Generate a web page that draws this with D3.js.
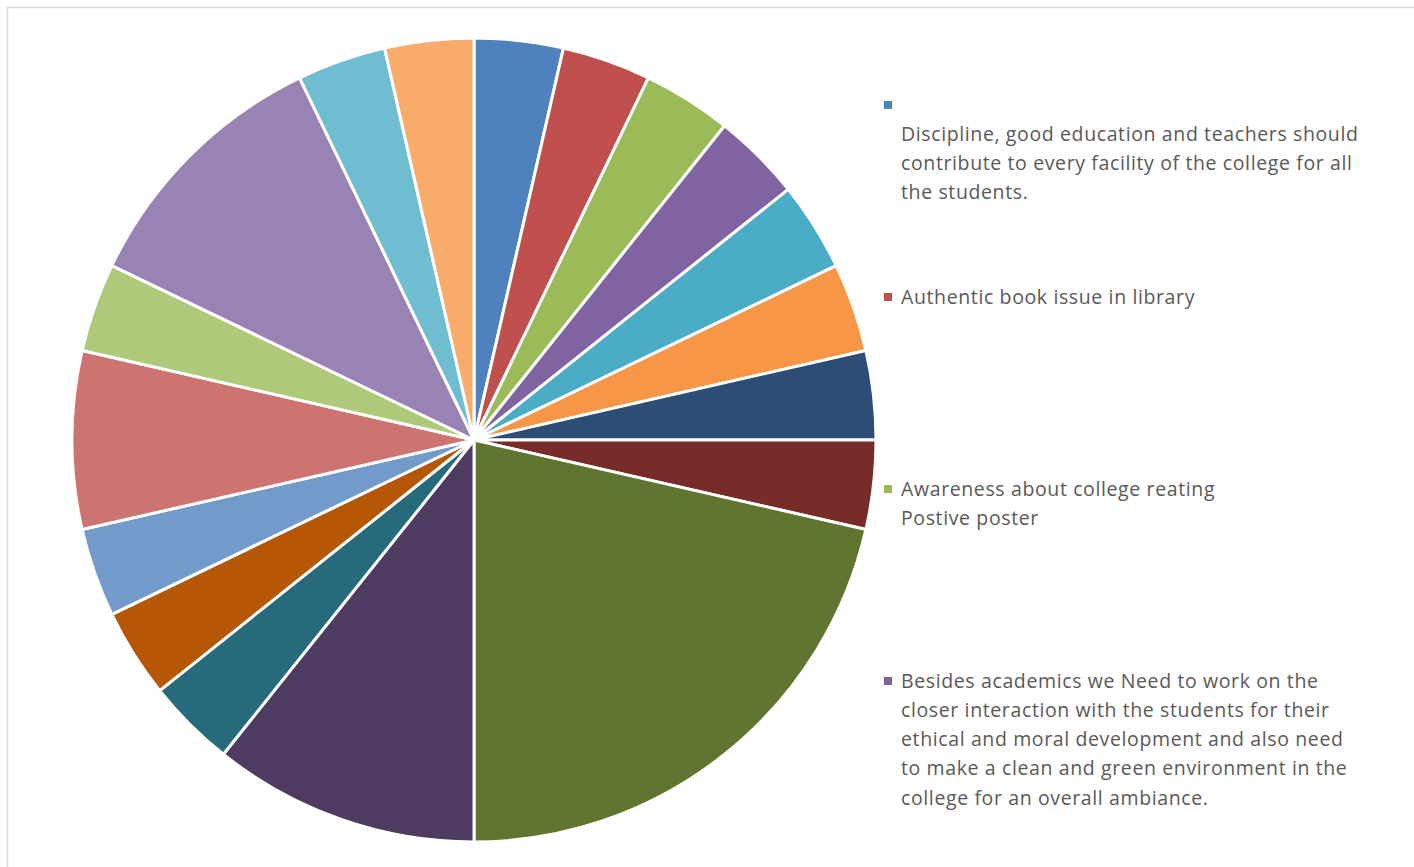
<!DOCTYPE html>
<html><head><meta charset="utf-8">
<script src="https://cdn.jsdelivr.net/npm/d3@7"></script>
<style>html,body{margin:0;padding:0;background:#fff;overflow:hidden}</style>
</head><body>
<svg id="c" width="1414" height="867"></svg>
<script>
const categories = [
  "\nDiscipline, good education and teachers should\ncontribute to every facility of the college for all\nthe students.",
  "Authentic book issue in library",
  "Awareness about college reating\nPostive poster",
  "Besides academics we Need to work on the\ncloser interaction with the students for their\nethical and moral development and also need\nto make a clean and green environment in the\ncollege for an overall ambiance.",
  "", "", "", "", "", "", "", "", "", "", "", "", "", ""
];
const values = [1,1,1,1,1,1,1,1,6,3,1,1,1,2,1,3,1,1];
const colors = ["#4F81BD","#C0504D","#9BBB59","#8064A2","#4BACC6","#F79646",
                "#2C4D75","#772C2A","#5F7530","#4D3B62","#276A7C","#B65708",
                "#729ACA","#CD7371","#AFC97A","#9983B5","#6FBDD1","#F9AB6B"];
const legendShown = 4;

const svg = d3.select("#c");
// chart frame
svg.append("rect").attr("x",7.5).attr("y",7.5).attr("width",1420).attr("height",880)
  .attr("fill","none").attr("stroke","#d9d9d9").attr("stroke-width",1.5);

const cx = 474, cy = 440, R = 402;
const data = values.map((v,i)=>({cat:categories[i], value:v, color:colors[i]}));
const pie = d3.pie().value(d=>d.value).sort(null);
const arc = d3.arc().innerRadius(0).outerRadius(R);
const g = svg.append("g").attr("transform",`translate(${cx},${cy})`);
g.selectAll("path").data(pie(data)).join("path")
  .attr("d",arc).attr("fill",d=>d.data.color)
  .attr("stroke","#fff").attr("stroke-width",3).attr("stroke-linejoin","round");

// legend
const lg = svg.append("g");
const lineH = 29.2, itemGap = 192, lx = 884, ly0 = 105;
data.slice(0,legendShown).forEach((d,i)=>{
  const y = ly0 + i*itemGap;
  lg.append("rect").attr("x",lx).attr("y",y-4).attr("width",8).attr("height",8).attr("fill",d.color);
  const lines = d.cat.split("\n");
  const t = lg.append("text").attr("font-family","'Open Sans', sans-serif")
    .attr("font-size",19.5).attr("letter-spacing",0.62).attr("fill","#595959");
  lines.forEach((ln,j)=>{
    t.append("tspan").attr("x",901).attr("y",y + j*lineH).attr("dy","0.35em").text(ln);
  });
});
</script>
</body></html>
